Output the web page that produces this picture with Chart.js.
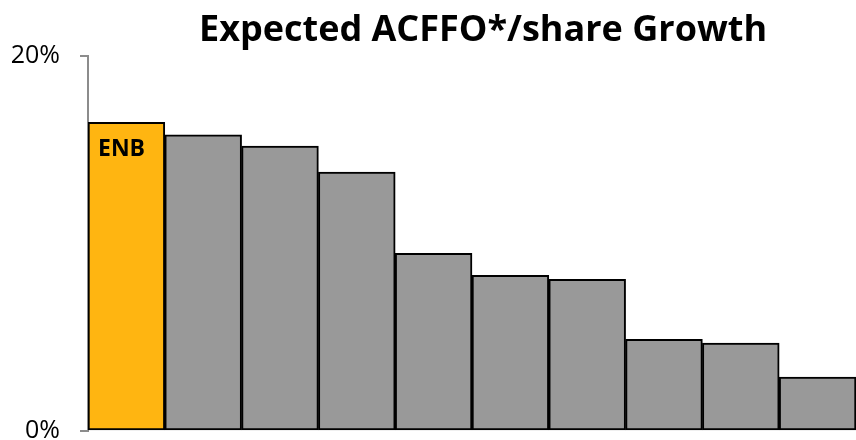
<!DOCTYPE html>
<html>
<head>
<meta charset="utf-8">
<script src="https://cdn.jsdelivr.net/npm/chart.js@4.4.1/dist/chart.umd.min.js"></script>
<style>
  html, body { margin: 0; padding: 0; background: #fff; }
  #wrap { width: 856px; height: 440px; }
</style>
</head>
<body>
<div id="wrap"><canvas id="growthChart" width="856" height="440"></canvas></div>
<script>
  "use strict";

  const categories = ["ENB", "Peer 1", "Peer 2", "Peer 3", "Peer 4", "Peer 5", "Peer 6", "Peer 7", "Peer 8", "Peer 9"];
  const growthValues = [16.46, 15.79, 15.2, 13.81, 9.48, 8.3, 8.09, 4.89, 4.69, 2.88];
  const yTickValues = [0, 20];
  const chartTitle = "Expected ACFFO*/share Growth";
  const highlightLabel = "ENB";

  const barColors = categories.map((c) => c === highlightLabel ? "#FFB511" : "#999999");

  // title sits centred over the plot area, not the canvas
  const titlePlugin = {
    id: "plotTitle",
    afterDraw(chart) {
      const ctx = chart.ctx;
      const area = chart.chartArea;
      ctx.save();
      ctx.font = "bold 36px 'Open Sans'";
      ctx.fillStyle = "#000";
      ctx.textAlign = "center";
      ctx.textBaseline = "middle";
      ctx.fillText(chartTitle, (area.left + area.right) / 2 + 11, 31);
      ctx.restore();
    }
  };

  const barLabelPlugin = {
    id: "barLabel",
    afterDatasetsDraw(chart) {
      const meta = chart.getDatasetMeta(0);
      const idx = categories.indexOf(highlightLabel);
      const bar = meta.data[idx];
      if (!bar) return;
      const ctx = chart.ctx;
      ctx.save();
      ctx.font = "bold 23px 'Open Sans'";
      ctx.fillStyle = "#000";
      ctx.textAlign = "left";
      ctx.textBaseline = "middle";
      ctx.fillText(highlightLabel, bar.x - bar.width / 2 + 10, bar.y + 27);
      ctx.restore();
    }
  };

  new Chart(document.getElementById("growthChart").getContext("2d"), {
    type: "bar",
    data: {
      labels: categories,
      datasets: [{
        data: growthValues,
        backgroundColor: barColors,
        borderColor: "#000",
        borderWidth: 2,
        borderSkipped: false,
        barPercentage: 1,
        categoryPercentage: 1
      }]
    },
    options: {
      responsive: false,
      animation: false,
      layout: {
        padding: { top: 56, left: 0, right: 0, bottom: 9 }
      },
      plugins: {
        legend: { display: false },
        title: { display: false },
        tooltip: { enabled: false }
      },
      scales: {
        x: {
          display: false
        },
        y: {
          min: 0,
          max: 20,
          afterBuildTicks: (axis) => {
            axis.ticks = yTickValues.map((v) => ({ value: v }));
          },
          afterFit: (axis) => {
            axis.width = 88;
            axis.paddingTop = 0;
            axis.paddingBottom = 0;
          },
          border: { display: true, color: "#8c8c8c", width: 2 },
          grid: {
            drawOnChartArea: false,
            drawTicks: true,
            tickLength: 8,
            color: "#8c8c8c",
            lineWidth: 2
          },
          ticks: {
            padding: 20,
            color: "#000",
            font: { family: "'Open Sans'", size: 25 },
            callback: (v) => v + "%"
          }
        }
      }
    },
    plugins: [titlePlugin, barLabelPlugin]
  });
</script>
</body>
</html>
